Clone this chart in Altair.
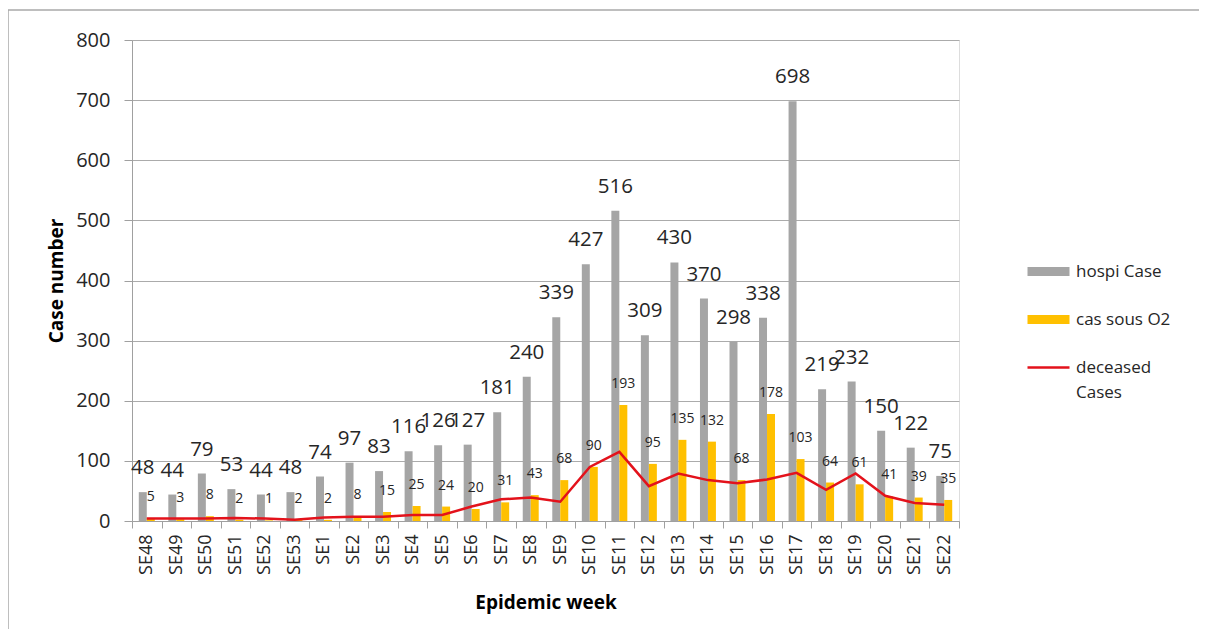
import altair as alt
import pandas as pd

weeks = ["SE48", "SE49", "SE50", "SE51", "SE52", "SE53", "SE1", "SE2", "SE3", "SE4",
         "SE5", "SE6", "SE7", "SE8", "SE9", "SE10", "SE11", "SE12", "SE13", "SE14",
         "SE15", "SE16", "SE17", "SE18", "SE19", "SE20", "SE21", "SE22"]
hospi = [48, 44, 79, 53, 44, 48, 74, 97, 83, 116, 126, 127, 181, 240, 339, 427, 516,
         309, 430, 370, 298, 338, 698, 219, 232, 150, 122, 75]
o2 = [5, 3, 8, 2, 1, 2, 2, 8, 15, 25, 24, 20, 31, 43, 68, 90, 193, 95, 135, 132, 68,
      178, 103, 64, 61, 41, 39, 35]
deceased = [4, 4, 4, 5, 4, 2, 6, 7, 7, 10, 10, 24, 36, 39, 32, 90, 115, 58, 79, 68,
            63, 69, 80, 52, 79, 42, 30, 27]
series_names = ["hospi Case", "cas sous O2", "deceased Cases"]
series_colors = ["#A5A5A5", "#FFC000", "#E3121B"]
y_ticks = [0, 100, 200, 300, 400, 500, 600, 700, 800]

FONT = "Open Sans"
TXT = "#262626"

bar_df = pd.DataFrame({
    "week": weeks * 2,
    "series": [series_names[0]] * len(weeks) + [series_names[1]] * len(weeks),
    "value": hospi + o2,
})
line_df = pd.DataFrame({"week": weeks, "value": deceased})

x_enc = alt.X(
    "week:N", sort=weeks,
    scale=alt.Scale(paddingInner=0, paddingOuter=0),
    axis=alt.Axis(
        title="Epidemic week", labelAngle=-90, labelAlign="right", labelBaseline="middle",
        tickBand="extent", tickSize=7, labelPadding=6, ticks=True,
        domainColor="#A0A0A0", tickColor="#A0A0A0",
        labelFont=FONT, labelFontSize=18, labelColor=TXT,
        titleFont=FONT, titleFontSize=19, titleFontWeight="bold", titleColor="#000000",
        titlePadding=19,
    ),
)
y_scale = alt.Scale(domain=[0, 800])
y_enc = alt.Y(
    "value:Q", scale=y_scale,
    axis=alt.Axis(
        title="Case number", values=y_ticks, tickSize=8, labelPadding=14,
        grid=True, gridColor="#ABABAB", domainColor="#A0A0A0", tickColor="#A0A0A0",
        labelFont=FONT, labelFontSize=20, labelColor=TXT,
        titleFont=FONT, titleFontSize=19, titleFontWeight="bold", titleColor="#000000",
        titlePadding=9,
    ),
)
xoff = alt.XOffset("series:N", scale=alt.Scale(domain=series_names[:2], paddingInner=0, paddingOuter=0.85))

rect_path = "M-1,-0.21H1V0.21H-1Z"
legend = alt.Legend(
    title=None, orient="none", legendX=894, legendY=209, padding=0,
    symbolType={"expr": "datum.value === 'deceased Cases' ? 'M-1,0H1' : '" + rect_path + "'"},
    symbolStrokeColor={"expr": "datum.value === 'deceased Cases' ? '#E3121B' : 'transparent'"},
    symbolSize=1764, symbolStrokeWidth=2.5,
    labelFont=FONT, labelFontSize=17, labelColor=TXT, labelOffset=5,
    rowPadding=16, labelLimit=300,
    labelExpr="datum.label == 'deceased Cases' ? ['deceased', 'Cases'] : datum.label",
)

bars = alt.Chart(bar_df).mark_bar().encode(
    x=x_enc, y=y_enc, xOffset=xoff,
    color=alt.Color("series:N", scale=alt.Scale(domain=series_names, range=series_colors), legend=legend),
)

hospi_text = alt.Chart(bar_df).transform_filter(
    alt.datum.series == series_names[0]
).mark_text(font=FONT, fontSize=20.5, color=TXT, baseline="middle", dy=-24).encode(
    x=alt.X("week:N", sort=weeks), y=alt.Y("value:Q", scale=y_scale), xOffset=xoff, text="value:Q",
)
o2_text = alt.Chart(bar_df).transform_filter(
    alt.datum.series == series_names[1]
).mark_text(font=FONT, fontSize=14, color=TXT, baseline="middle", dy=-21).encode(
    x=alt.X("week:N", sort=weeks), y=alt.Y("value:Q", scale=y_scale), xOffset=xoff, text="value:Q",
)

line = alt.Chart(line_df).mark_line(color="#E3121B", strokeWidth=2.5).encode(
    x=alt.X("week:N", sort=weeks), y=alt.Y("value:Q", scale=y_scale),
)

# decorative outer frame (top and left edges, as in the reference picture)
frame_df = pd.DataFrame({"k": [0]})
frame_top = alt.Chart(frame_df).mark_rule(color="#A8A8A8", strokeWidth=1.5).encode(
    x=alt.value(-124), x2=alt.value(1070), y=alt.value(-30),
)
frame_left = alt.Chart(frame_df).mark_rule(color="#A8A8A8", strokeWidth=1.5).encode(
    x=alt.value(-124), y=alt.value(-30), y2=alt.value(600),
)

chart = alt.layer(frame_top, frame_left, bars, line, hospi_text, o2_text).properties(
    width=827, height=481,
    autosize=alt.AutoSizeParams(type="none"),
    padding={"left": 124, "top": 32, "right": 240, "bottom": 108},
).configure_view(stroke=None).configure(
    background="white",
    style={"guide-label": {"lineHeight": 25}},
)

chart.save("out.html", embed_options={"renderer": "svg", "actions": False})
